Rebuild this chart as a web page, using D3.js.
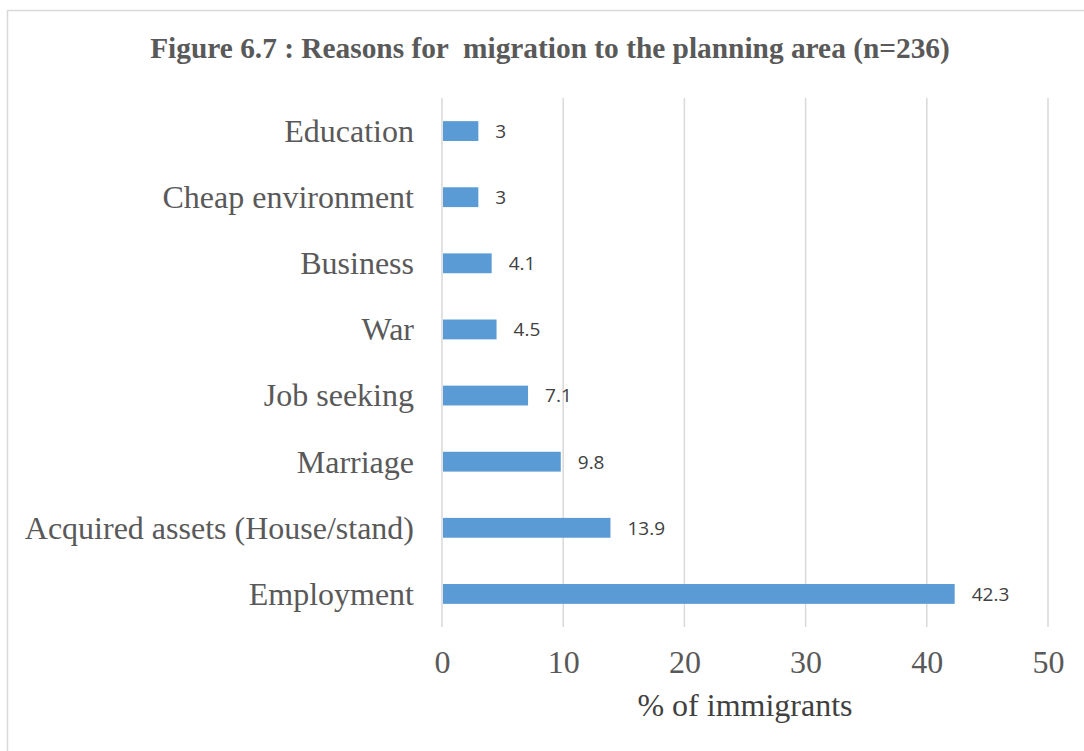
<!DOCTYPE html>
<html>
<head>
<meta charset="utf-8">
<script src="https://cdn.jsdelivr.net/npm/d3@7"></script>
<style>
  html, body { margin: 0; padding: 0; background: #fff; }
  svg { display: block; }
</style>
</head>
<body>
<svg id="chart" width="1084" height="751"></svg>
<script>
// Reasons for migration, top to bottom
const categories = [
  "Education",
  "Cheap environment",
  "Business",
  "War",
  "Job seeking",
  "Marriage",
  "Acquired assets (House/stand)",
  "Employment"
];
const percentages = [3, 3, 4.1, 4.5, 7.1, 9.8, 13.9, 42.3];
const xTicks = [0, 10, 20, 30, 40, 50];

const titleText = "Figure 6.7 : Reasons for  migration to the planning area (n=236)";
const xAxisTitle = "% of immigrants";

const serif = "'Liberation Serif', 'Times New Roman', serif";
const svg = d3.select("#chart");
const W = 1084, H = 751;

// outer frame
svg.append("rect")
  .attr("x", 7.5).attr("y", 10.5)
  .attr("width", W + 10).attr("height", H + 10)
  .attr("fill", "#fff")
  .attr("stroke", "#d9d9d9").attr("stroke-width", 1.5);

const plot = { left: 442, right: 1048, top: 98, bottom: 627 };

const x = d3.scaleLinear().domain([0, 50]).range([plot.left, plot.right]);
const y = d3.scaleBand().domain(categories).range([plot.top, plot.bottom]).paddingInner(0.7).paddingOuter(0.35);

// title, sized to span 800px
const title = svg.append("text")
  .attr("x", 550).attr("y", 58)
  .attr("text-anchor", "middle")
  .attr("font-family", serif)
  .attr("font-weight", "bold")
  .attr("font-size", 24)
  .attr("fill", "#595959")
  .style("white-space", "pre")
  .attr("xml:space", "preserve")
  .text(titleText);
const tw = title.node().getComputedTextLength();
if (tw > 0) title.attr("font-size", 24 * 800 / tw);

// vertical gridlines
svg.append("g")
  .selectAll("line")
  .data(xTicks)
  .join("line")
  .attr("x1", d => x(d)).attr("x2", d => x(d))
  .attr("y1", plot.top).attr("y2", plot.bottom)
  .attr("stroke", "#d9d9d9").attr("stroke-width", 1.5);

// bars
svg.append("g")
  .selectAll("rect")
  .data(categories)
  .join("rect")
  .attr("x", x(0) + 1)
  .attr("y", d => y(d))
  .attr("width", (d, i) => x(percentages[i]) - x(0) - 1)
  .attr("height", y.bandwidth())
  .attr("fill", "#5b9bd5");

// value labels
svg.append("g")
  .selectAll("text")
  .data(categories)
  .join("text")
  .attr("x", (d, i) => x(percentages[i]) + 17)
  .attr("y", d => y(d) + y.bandwidth() / 2)
  .attr("dy", "0.36em")
  .attr("font-family", "'Open Sans', 'Liberation Sans', sans-serif")
  .attr("font-size", 19)
  .attr("fill", "#404040")
  .text((d, i) => percentages[i]);

// category axis labels
const yAxis = d3.axisLeft(y).tickSize(0).tickPadding(28);
const gy = svg.append("g").attr("transform", `translate(${plot.left},0)`).call(yAxis);
gy.select(".domain").remove();
gy.selectAll("text")
  .attr("font-family", serif)
  .attr("font-size", 32)
  .attr("dy", "0.34em")
  .attr("fill", "#595959");

// value axis labels
const xAxis = d3.axisBottom(x).tickValues(xTicks).tickSize(0).tickPadding(23);
const gx = svg.append("g").attr("transform", `translate(0,${plot.bottom})`).call(xAxis);
gx.select(".domain").remove();
gx.selectAll("text")
  .attr("font-family", serif)
  .attr("font-size", 32)
  .attr("fill", "#595959");

// axis title
svg.append("text")
  .attr("x", (plot.left + plot.right) / 2).attr("y", 716)
  .attr("text-anchor", "middle")
  .attr("font-family", serif)
  .attr("font-size", 32)
  .attr("fill", "#404040")
  .text(xAxisTitle);
</script>
</body>
</html>
